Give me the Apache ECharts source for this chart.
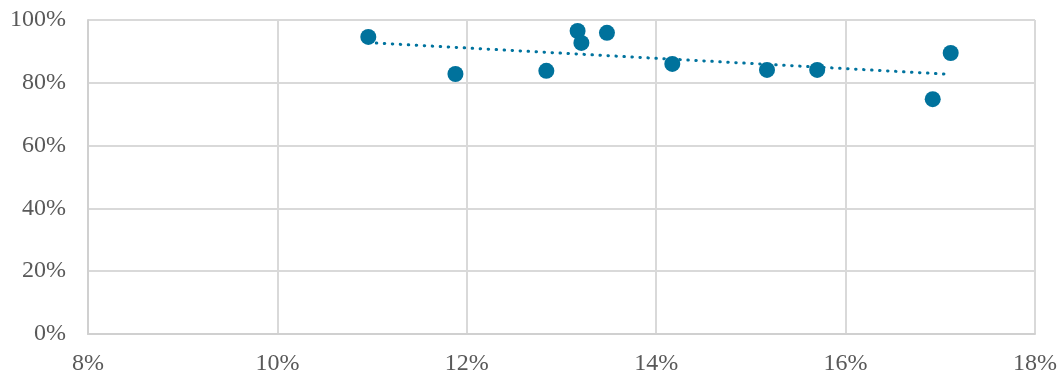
<!DOCTYPE html>
<html>
<head>
<meta charset="utf-8">
<script src="https://cdn.jsdelivr.net/npm/echarts@6/dist/echarts.min.js"></script>
<style>
html,body{margin:0;padding:0;background:#fff;}
#chart{width:1060px;height:374px;}
</style>
</head>
<body>
<div id="chart"></div>
<script>
// x: percent, y: percent
const xValues = [10.96, 11.88, 12.84, 13.17, 13.21, 13.48, 14.17, 15.17, 15.70, 16.92, 17.11];
const yValues = [94.6, 82.8, 83.8, 96.5, 92.7, 95.9, 86.0, 84.1, 84.1, 74.8, 89.5];
const xTicks = [8, 10, 12, 14, 16, 18];
const yTicks = [0, 20, 40, 60, 80, 100];

const points = xValues.map((x, i) => [x, yValues[i]]);

// linear least-squares trendline
const n = xValues.length;
const mx = xValues.reduce((a, b) => a + b, 0) / n;
const my = yValues.reduce((a, b) => a + b, 0) / n;
let sxy = 0, sxx = 0;
for (let i = 0; i < n; i++) {
  sxy += (xValues[i] - mx) * (yValues[i] - my);
  sxx += (xValues[i] - mx) * (xValues[i] - mx);
}
const slope = sxy / sxx;
const intercept = my - slope * mx;
const xMin = Math.min(...xValues), xMax = Math.max(...xValues);
const trend = [[xMin, intercept + slope * xMin], [xMax, intercept + slope * xMax]];

const font = 'Liberation Serif';
const chart = echarts.init(document.getElementById('chart'));
chart.setOption({
  animation: false,
  grid: { left: 88, right: 25, top: 20, bottom: 40, containLabel: false, outerBoundsMode: 'none' },
  xAxis: {
    type: 'value', min: xTicks[0], max: xTicks[xTicks.length - 1], interval: 2,
    axisLine: { show: true, lineStyle: { color: '#d0d0d0', width: 2 } },
    axisTick: { show: false },
    splitLine: { show: true, lineStyle: { color: '#d9d9d9', width: 2 } },
    axisLabel: { formatter: v => v + '%', color: '#595959', fontFamily: font, fontSize: 24, margin: 18 }
  },
  yAxis: {
    type: 'value', min: yTicks[0], max: yTicks[yTicks.length - 1], interval: 20,
    axisLine: { show: true, lineStyle: { color: '#d0d0d0', width: 2 } },
    axisTick: { show: false },
    splitLine: { show: true, lineStyle: { color: '#d9d9d9', width: 2 } },
    axisLabel: { formatter: v => v + '%', color: '#595959', fontFamily: font, fontSize: 24, margin: 22 }
  },
  series: [
    {
      type: 'line', data: trend, showSymbol: false, symbol: 'none', z: 2,
      lineStyle: { color: '#00739e', width: 3, type: [0.5, 7.5], cap: 'round' }
    },
    {
      type: 'scatter', data: points, symbolSize: 16, z: 3,
      itemStyle: { color: '#00729c', opacity: 1 }
    }
  ]
});
</script>
</body>
</html>
